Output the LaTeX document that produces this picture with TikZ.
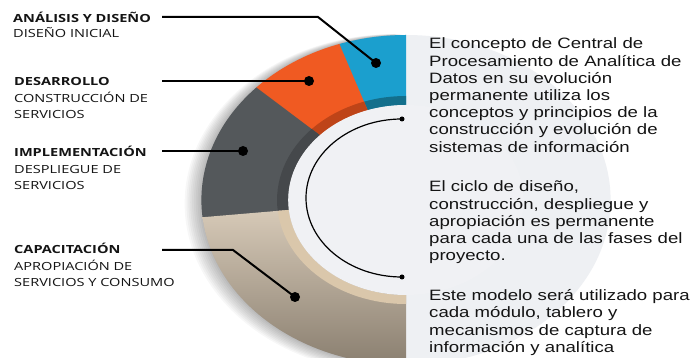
\documentclass[tikz,border=0pt]{standalone}
\usepackage{fontspec}
\newfontfamily\rtextfont[FakeStretch=1.24]{Liberation Sans}
\newfontfamily\ltextfont[FakeStretch=1.3]{Open Sans}
\definecolor{panelgray}{HTML}{EEF0F3}
\definecolor{innergray}{HTML}{F0F1F4}
\definecolor{cyanc}{HTML}{1B9FCE}
\definecolor{cyanb}{HTML}{136F8C}
\definecolor{orangec}{HTML}{F05A22}
\definecolor{orangeb}{HTML}{BE4418}
\definecolor{grayc}{HTML}{54585B}
\definecolor{grayb}{HTML}{45484B}
\definecolor{tantop}{HTML}{D6C9B7}
\definecolor{tanbot}{HTML}{8A7F70}
\definecolor{tanb}{HTML}{DAC7AB}
\definecolor{txt}{HTML}{141414}
\tikzset{
  ltxt/.style={font=\ltextfont\fontsize{11.2}{16.5}\selectfont, text=txt, align=left, inner sep=0pt, anchor=base west},
  rtxt/.style={font=\rtextfont\fontsize{15}{17.2}\selectfont, text=txt, align=left, inner sep=0pt, anchor=base west},
  dotnode/.style={circle, fill=black, inner sep=0pt, minimum size=10pt},
  smalldot/.style={circle, fill=black, inner sep=0pt, minimum size=5pt},
  leader/.style={line width=2pt, black},
  arcline/.style={line width=1.2pt, black}
}
\begin{document}
\begin{tikzpicture}[x=1pt,y=1pt]
\useasboundingbox (0,0) rectangle (693,358);
\fill[white] (0,0) rectangle (693,358);
\begin{scope}[shift={(406,158)}, xscale=1.24]
  \fill[panelgray] (0,0) circle[radius=165];
  \foreach \i in {1,...,9} {
    \fill[black, opacity=0.03, shift={(-1.0*\i,-0.4*\i)}] (90:165+0.5*\i) arc[start angle=90, end angle=270, radius=165+0.5*\i] -- cycle;
  }
  % cyan
  \fill[cyanc] (90:165) arc[start angle=90,end angle=109.3,radius=165] -- (109.3:95) arc[start angle=109.3,end angle=90,radius=95] -- cycle;
  \fill[cyanb] (90:104) arc[start angle=90,end angle=109.3,radius=104] -- (109.3:95) arc[start angle=109.3,end angle=90,radius=95] -- cycle;
  % orange
  \fill[orangec] (109:165) arc[start angle=109,end angle=137.3,radius=165] -- (137.3:95) arc[start angle=137.3,end angle=109,radius=95] -- cycle;
  \fill[orangeb] (109:104) arc[start angle=109,end angle=137.3,radius=104] -- (137.3:95) arc[start angle=137.3,end angle=109,radius=95] -- cycle;
  % gray
  \fill[grayc] (137:165) arc[start angle=137,end angle=186.3,radius=165] -- (186.3:95) arc[start angle=186.3,end angle=137,radius=95] -- cycle;
  \fill[grayb] (137:104) arc[start angle=137,end angle=186.3,radius=104] -- (186.3:95) arc[start angle=186.3,end angle=137,radius=95] -- cycle;
  % tan
  \shade[top color=tantop, bottom color=tanbot] (186:165) arc[start angle=186,end angle=270,radius=165] -- (270:95) arc[start angle=270,end angle=186,radius=95] -- cycle;
  \fill[tanb] (186:104) arc[start angle=186,end angle=270,radius=104] -- (270:95) arc[start angle=270,end angle=186,radius=95] -- cycle;
  % inner
  \fill[innergray] (0,0) circle[radius=95];
\end{scope}
% inner arc
\node[smalldot] (a1) at (402,239) {};
\node[smalldot] (a2) at (402,81) {};
\draw[arcline] (a1.center) arc[start angle=90, end angle=270, x radius=96, y radius=79];
% left labels (anchor = baseline of last line)
\node[ltxt] (l1) at (13,320.5) {\textbf{ANÁLISIS Y DISEÑO}\\[-1.5pt]DISEÑO INICIAL};
\node[ltxt] (l2) at (14,239) {\textbf{DESARROLLO}\\CONSTRUCCIÓN DE\\SERVICIOS};
\node[ltxt] (l3) at (14,168) {\textbf{IMPLEMENTACIÓN}\\DESPLIEGUE DE\\SERVICIOS};
\node[ltxt] (l4) at (14,71) {\textbf{CAPACITACIÓN}\\APROPIACIÓN DE\\SERVICIOS Y CONSUMO};
% dots
\node[dotnode] (d1) at (376,295) {};
\node[dotnode] (d2) at (309,277) {};
\node[dotnode] (d3) at (243,207) {};
\node[dotnode] (d4) at (295,61) {};
% leader lines
\coordinate (s1) at (162,341);
\coordinate (k1) at (318,341);
\coordinate (s2) at (162,277);
\coordinate (s3) at (162,207);
\coordinate (s4) at (162,108);
\coordinate (k4) at (233,108);
\draw[leader] (s1) -- (k1) -- (d1.center);
\draw[leader] (s2) -- (d2.center);
\draw[leader] (s3) -- (d3.center);
\draw[leader] (s4) -- (k4) -- (d4.center);
% right text (anchor = baseline of last line)
\node[rtxt] (p1) at (429,205.8) {El concepto de Central de\\Procesamiento de Analítica de\\Datos en su evolución\\permanente utiliza los\\conceptos y principios de la\\construcción y evolución de\\sistemas de información};
\node[rtxt] (p2) at (429,97.2) {El ciclo de diseño,\\construcción, despliegue y\\apropiación es permanente\\para cada una de las fases del\\proyecto.};
\node[rtxt] (p3) at (429,5.6) {Este modelo será utilizado para\\cada módulo, tablero y\\mecanismos de captura de\\información y analítica};
\end{tikzpicture}
\end{document}
